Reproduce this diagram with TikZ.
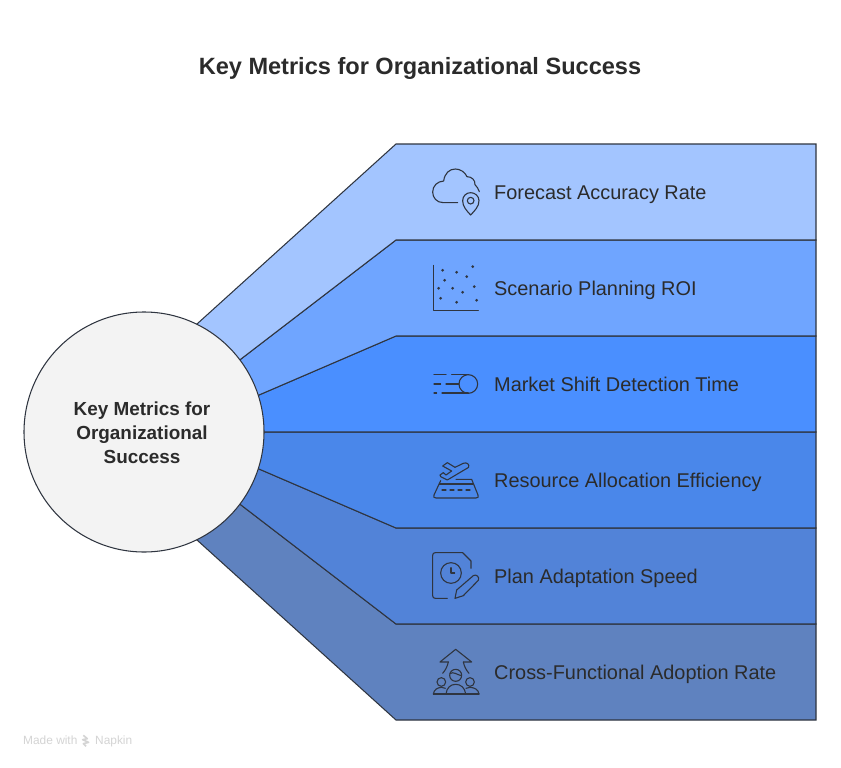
\documentclass[tikz,border=0pt]{standalone}
\usepackage{fontspec}
\setmainfont{Liberation Sans}
\definecolor{bandA}{HTML}{A3C5FF}
\definecolor{bandB}{HTML}{6FA5FF}
\definecolor{bandC}{HTML}{4A8FFF}
\definecolor{bandD}{HTML}{4A87EA}
\definecolor{bandE}{HTML}{5283D8}
\definecolor{bandF}{HTML}{5F82BF}
\definecolor{ink}{HTML}{2B2B2B}
\definecolor{edge}{HTML}{2F3540}
\definecolor{credgrey}{HTML}{D4D4D4}
\definecolor{hubfill}{HTML}{F3F3F3}
\tikzset{
  band/.style={draw=edge,line width=1.05pt,line join=miter},
  hub/.style={circle,draw=edge,line width=1.05pt,fill=hubfill,minimum size=240pt,inner sep=0pt},
  hubtext/.style={font=\fontsize{18.9}{24}\selectfont\bfseries,text=ink,align=center},
  label/.style={anchor=base west,font=\fontsize{19.9}{22}\selectfont,text=ink,inner sep=0pt},
  title/.style={font=\fontsize{23.55}{28}\selectfont\bfseries,text=ink,inner sep=0pt},
  credit/.style={font=\fontsize{11.9}{13}\selectfont,text=credgrey,inner sep=0pt,anchor=base west},
  icon/.style={draw=edge,line width=1.1pt,line cap=round,line join=round,fill=none},
  iconbox/.style={shift={(#1)},x=0.3333pt,y=-0.3333pt},
}
\begin{document}
\begin{tikzpicture}[x=1pt,y=-1pt]
\useasboundingbox (0,0) rectangle (841,768);
\fill[white] (0,0) rectangle (841,768);
\coordinate (hubc) at (144,432);
% bands
\draw[band,fill=bandF] (hubc) -- (197,540) -- (396,720) -- (816,720) -- (816,624) -- (396,624) -- (241,505) -- cycle;
\draw[band,fill=bandE] (hubc) -- (241,505) -- (396,624) -- (816,624) -- (816,528) -- (396,528) -- (259,469) -- cycle;
\draw[band,fill=bandD] (hubc) -- (259,469) -- (396,528) -- (816,528) -- (816,432) -- (264,432) -- cycle;
\draw[band,fill=bandC] (hubc) -- (264,432) -- (816,432) -- (816,336) -- (396,336) -- (259,395) -- cycle;
\draw[band,fill=bandB] (hubc) -- (259,395) -- (396,336) -- (816,336) -- (816,240) -- (396,240) -- (241,359) -- cycle;
\draw[band,fill=bandA] (hubc) -- (241,359) -- (396,240) -- (816,240) -- (816,144) -- (396,144) -- (197,324) -- cycle;
\node[hub] (hub) at (hubc) {};
\node[hubtext] (hubtext) at (142,432.7) {Key Metrics for\\Organizational\\Success};
\node[title] (title) at (420,68.3) {Key Metrics for Organizational Success};
% labels
\node[label] (l1) at (494,199.4) {Forecast Accuracy Rate};
\node[label] (l2) at (494,295.4) {Scenario Planning ROI};
\node[label] (l3) at (494,391.4) {Market Shift Detection Time};
\node[label] (l4) at (494,487.4) {Resource Allocation Efficiency};
\node[label] (l5) at (494,583.4) {Plan Adaptation Speed};
\node[label] (l6) at (494,679.4) {Cross-Functional Adoption Rate};
% icon 1: cloud and pin
\begin{scope}[iconbox={420,160}]
\draw[icon] (113,128) -- (70,128) .. controls (50,128) and (38,113) .. (38,96) .. controls (38,78) and (52,64) .. (71,63) .. controls (74,40) and (88,27) .. (106,27) .. controls (122,27) and (135,37) .. (141,50) .. controls (155,50) and (166,60) .. (165,74) .. controls (171,79) and (175,87) .. (178,95);
\draw[icon] (152,165) .. controls (140,152) and (128,140) .. (128,122) .. controls (128,108) and (139,98) .. (152,98) .. controls (165,98) and (177,108) .. (177,122) .. controls (177,140) and (164,152) .. (152,165) -- cycle;
\draw[icon] (152,122) circle[radius=10];
\end{scope}
% icon 2: scatter
\begin{scope}[iconbox={420,160}]
\draw[icon] (40,316) -- (40,451) -- (175,451);
\foreach \px/\py in {68/331,110/337,158/320,140/350,74/361,56/385,98/385,163/380,128/397,62/415,110/427,170/421}
  \fill[edge] (\px,\py) circle[radius=4.5];
\end{scope}
% icon 3: speeding ball
\begin{scope}[iconbox={420,360}]
\draw[icon] (145,72) circle[radius=28];
\draw[icon] (42,44) -- (78,44) (95,44) -- (145,44);
\draw[icon] (42,72) -- (62,72) (78,72) -- (117,72);
\draw[icon] (42,99) -- (50,99) (66,99) -- (145,99);
\end{scope}
% icon 4: plane over runway
\begin{scope}[iconbox={420,360}]
\draw[icon] (68,318) -- (82,308) -- (105,322) -- (130,310) .. controls (140,306) and (149,312) .. (146,322) -- (82,360) -- (62,350) -- (60,345) -- (70,338) -- (78,345) -- (95,333) -- cycle;
\draw[icon] (108,358) -- (155,358) -- (174,405) .. controls (177,411) and (174,414) .. (168,414) -- (48,414) .. controls (42,414) and (39,411) .. (42,405) -- (62,362);
\draw[icon] (58,372) -- (159,372);
\draw[icon] (66,390) -- (78,390) (90,390) -- (102,390) (114,390) -- (126,390) (138,390) -- (150,390);
\end{scope}
% icon 5: document, clock, pencil
\begin{scope}[iconbox={420,545}]
\draw[icon] (153,70) -- (153,48) -- (128,23) -- (46,23) .. controls (41,23) and (38,26) .. (38,31) -- (38,152) .. controls (38,157) and (41,160) .. (46,160) -- (82,160);
\draw[icon] (93,84) circle[radius=31];
\draw[icon] (93,68) -- (93,84) -- (104,84);
\draw[icon] (105,160) -- (110,135) -- (160,92) .. controls (168,86) and (180,96) .. (175,106) -- (130,152) -- cycle;
\end{scope}
% icon 6: people and arrow
\begin{scope}[iconbox={420,545}]
\draw[icon] (85,351) -- (60,351) -- (107,313) -- (155,351) -- (130,351);
\draw[icon] (85,351) .. controls (82,365) and (76,376) .. (68,385);
\draw[icon] (130,351) .. controls (133,365) and (139,376) .. (147,385);
\draw[icon] (107,391) circle[radius=18];
\draw[icon] (90,386) .. controls (100,378) and (112,390) .. (124,392);
\draw[icon] (64,411) circle[radius=13];
\draw[icon] (150,411) circle[radius=13];
\draw[icon] (40,447) -- (177,447);
\draw[icon] (40,447) .. controls (42,434) and (52,428) .. (64,427) .. controls (68,427) and (72,428) .. (76,430);
\draw[icon] (177,447) .. controls (175,434) and (165,428) .. (150,427) .. controls (146,427) and (142,428) .. (138,430);
\draw[icon] (78,447) .. controls (80,428) and (92,418) .. (107,418) .. controls (122,418) and (135,428) .. (137,447);
\end{scope}
% credit
\node[credit] (made) at (23,744.3) {Made with};
\node[credit] (napkin) at (95,744.3) {Napkin};
\begin{scope}[iconbox={10,725}]
\draw[credgrey,line width=1.6pt,line join=round] (220,31) -- (232,41) -- (218,44) -- (236,52) -- (220,56) -- (228,64);
\end{scope}
\end{tikzpicture}
\end{document}
